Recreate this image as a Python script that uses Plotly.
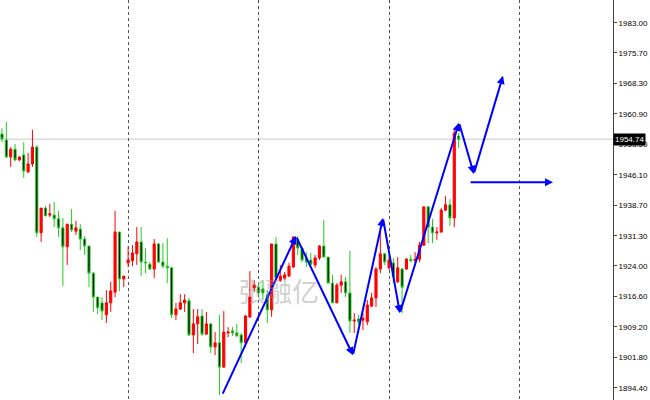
import plotly.graph_objects as go

# ---- data (bar index, OHLC) ----
bar_index = list(range(106))
open_ = [1956.0, 1954.5, 1950.4, 1952.3, 1949.7, 1950.9, 1946.8, 1948.7, 1952.8, 1932.0,
         1938.0, 1936.3, 1936.3, 1935.4, 1933.2, 1928.6, 1934.1, 1932.4, 1932.9, 1930.5,
         1928.8, 1922.2, 1916.4, 1915.0, 1912.1, 1915.0, 1917.6, 1932.2, 1920.8, 1924.7,
         1925.2, 1926.9, 1929.8, 1924.9, 1924.4, 1923.2, 1929.3, 1924.9, 1923.9, 1923.5,
         1912.1, 1913.5, 1915.0, 1915.5, 1907.2, 1909.9, 1911.8, 1907.4, 1909.9, 1904.3,
         1905.3, 1899.4, 1907.7, 1908.2, 1907.7, 1907.2, 1905.3, 1911.6, 1918.6, 1918.8,
         1918.4, 1916.9, 1913.3, 1929.3, 1920.5, 1921.0, 1921.5, 1923.7, 1930.3, 1928.3,
         1925.9, 1925.4, 1924.2, 1925.9, 1928.8, 1926.1, 1919.8, 1915.0, 1919.3, 1920.1,
         1917.4, 1910.6, 1911.1, 1910.8, 1910.4, 1914.2, 1916.2, 1923.2, 1926.9, 1923.5,
         1924.7, 1920.1, 1923.2, 1923.2, 1925.6, 1925.2, 1925.6, 1929.0, 1938.3, 1933.4,
         1932.0, 1932.2, 1937.5, 1938.8, 1935.6, 1955.5]
high = [1957.4, 1958.9, 1952.8, 1953.6, 1950.6, 1954.0, 1951.4, 1957.0, 1953.3, 1938.0,
        1938.5, 1939.0, 1939.5, 1937.3, 1935.6, 1934.1, 1937.8, 1934.9, 1934.1, 1931.2,
        1928.8, 1922.5, 1916.4, 1916.4, 1918.1, 1920.1, 1937.3, 1932.2, 1921.5, 1928.6,
        1929.0, 1933.4, 1933.4, 1928.3, 1924.9, 1930.5, 1929.5, 1929.5, 1930.7, 1923.7,
        1915.0, 1917.1, 1917.1, 1916.2, 1913.5, 1913.5, 1913.5, 1912.8, 1909.9, 1907.9,
        1912.1, 1913.0, 1909.1, 1909.1, 1909.9, 1907.7, 1912.1, 1922.7, 1920.5, 1920.1,
        1920.5, 1918.1, 1929.3, 1931.0, 1924.2, 1922.5, 1924.7, 1931.2, 1931.2, 1928.6,
        1927.3, 1927.1, 1926.6, 1929.0, 1935.1, 1926.1, 1921.8, 1919.8, 1921.8, 1921.3,
        1927.6, 1912.5, 1912.1, 1912.5, 1915.7, 1917.4, 1923.7, 1933.4, 1927.1, 1926.6,
        1925.9, 1926.1, 1923.5, 1925.9, 1926.6, 1927.3, 1929.8, 1938.3, 1938.5, 1935.4,
        1933.4, 1938.0, 1940.9, 1940.2, 1957.2, 1956.2]
low = [1954.0, 1950.2, 1948.0, 1949.4, 1949.4, 1945.3, 1946.5, 1948.0, 1931.0, 1929.8,
       1936.1, 1935.8, 1933.4, 1931.0, 1919.1, 1924.2, 1932.2, 1931.5, 1927.8, 1926.6,
       1918.8, 1912.8, 1912.3, 1910.8, 1910.1, 1912.8, 1916.4, 1917.9, 1918.8, 1923.7,
       1923.9, 1924.2, 1921.5, 1922.2, 1923.0, 1921.0, 1924.7, 1923.5, 1919.8, 1911.3,
       1910.8, 1913.3, 1912.8, 1907.0, 1902.8, 1905.0, 1907.0, 1907.2, 1902.8, 1902.3,
       1892.6, 1899.2, 1906.7, 1907.0, 1906.7, 1900.4, 1904.3, 1911.3, 1917.6, 1916.9,
       1915.7, 1910.1, 1911.6, 1920.5, 1920.1, 1920.5, 1921.3, 1923.5, 1926.6, 1924.9,
       1923.7, 1924.2, 1923.5, 1925.4, 1926.1, 1919.8, 1915.0, 1915.0, 1917.4, 1916.4,
       1907.7, 1907.7, 1909.6, 1908.4, 1909.6, 1914.0, 1914.0, 1922.2, 1924.2, 1923.0,
       1919.8, 1919.8, 1912.5, 1923.0, 1924.9, 1924.7, 1924.9, 1928.8, 1929.5, 1929.5,
       1930.3, 1932.0, 1937.3, 1933.7, 1933.4, 1952.6]
close = [1954.8, 1950.4, 1952.3, 1949.7, 1950.4, 1947.0, 1948.7, 1952.8, 1932.0, 1938.0,
         1936.1, 1936.6, 1935.4, 1933.2, 1928.6, 1934.1, 1932.7, 1933.2, 1930.5, 1928.8,
         1922.2, 1916.4, 1913.8, 1913.0, 1915.0, 1917.9, 1932.2, 1920.8, 1921.5, 1925.4,
         1927.1, 1929.8, 1924.9, 1924.7, 1923.2, 1929.3, 1924.9, 1923.9, 1923.5, 1912.1,
         1913.5, 1915.0, 1915.7, 1907.2, 1909.9, 1911.6, 1907.4, 1909.9, 1904.3, 1905.3,
         1899.4, 1907.9, 1907.9, 1907.7, 1907.0, 1905.3, 1911.8, 1916.4, 1919.3, 1917.4,
         1917.4, 1913.3, 1929.3, 1921.0, 1921.5, 1921.8, 1923.9, 1931.0, 1928.3, 1925.4,
         1924.9, 1924.4, 1925.9, 1928.8, 1926.1, 1919.8, 1915.0, 1919.3, 1920.1, 1917.4,
         1910.6, 1910.8, 1910.4, 1911.3, 1914.5, 1916.2, 1923.2, 1926.9, 1924.9, 1925.4,
         1921.3, 1923.5, 1918.8, 1925.6, 1925.2, 1925.6, 1929.0, 1938.3, 1933.4, 1932.0,
         1932.2, 1937.5, 1938.8, 1935.6, 1956.2, 1954.74]

price_ticks = [1983.00, 1975.70, 1968.30, 1960.90, 1953.50, 1946.10, 1938.70,
               1931.30, 1924.00, 1916.60, 1909.20, 1901.80, 1894.40]
last_price = 1954.74
grid_bars = [29, 59, 89, 119]

# hand-drawn zigzag arrow path (bar index, price)
zig_x = [50.6, 67.6, 80.7, 87.6, 91.5, 105.1, 108.5, 115.2]
zig_y = [1892.6, 1931.2, 1902.3, 1935.6, 1912.5, 1958.7, 1946.3, 1970.1]
flat_x = [107.4, 126.7]
flat_y = [1944.3, 1944.3]

fig = go.Figure()
fig.add_trace(go.Candlestick(
    x=bar_index, open=open_, high=high, low=low, close=close,
    increasing=dict(line=dict(color="#ff0000", width=1), fillcolor="#ff0000"),
    decreasing=dict(line=dict(color="#22cc22", width=1), fillcolor="#000000"),
    whiskerwidth=0, showlegend=False, hoverinfo="skip"))

annotations = []
for k in range(1, len(zig_x)):
    annotations.append(dict(
        x=zig_x[k], y=zig_y[k], ax=zig_x[k-1], ay=zig_y[k-1],
        xref="x", yref="y", axref="x", ayref="y", text="", showarrow=True,
        arrowhead=2, arrowsize=0.8, arrowwidth=2, arrowcolor="#0000ff"))
annotations.append(dict(
    x=flat_x[1], y=flat_y[1], ax=flat_x[0], ay=flat_y[0],
    xref="x", yref="y", axref="x", ayref="y", text="", showarrow=True,
    arrowhead=2, arrowsize=0.8, arrowwidth=2, arrowcolor="#0000ff"))
# watermark
annotations.append(dict(
    x=63.5, y=1918.0, xref="x", yref="y", text="张融亿", showarrow=False,
    font=dict(family="Noto Sans CJK SC", size=27, color="rgba(150,150,150,0.45)")))
# last price label
annotations.append(dict(
    x=1.0, y=last_price, xref="paper", yref="y", text=f"{last_price:.2f}",
    showarrow=False, xanchor="left", yanchor="middle", bgcolor="#000000",
    font=dict(family="Liberation Sans", size=8, color="#ffffff"), borderpad=1))

fig.add_shape(type="line", xref="paper", x0=0, x1=1, yref="y",
              y0=last_price, y1=last_price, line=dict(color="#c8c8c8", width=1),
              layer="below")

fig.update_layout(
    width=650, height=400,
    margin=dict(l=0, r=37, t=0, b=0),
    paper_bgcolor="#ffffff", plot_bgcolor="#ffffff",
    showlegend=False,
    annotations=annotations,
    xaxis=dict(range=[-0.46, 140.5], rangeslider=dict(visible=False),
               tickvals=grid_bars, showticklabels=False, ticks="",
               showgrid=True, gridcolor="#555555", griddash="dot", gridwidth=1,
               zeroline=False, showline=False),
    yaxis=dict(range=[1891.42, 1988.51], side="right", tickvals=price_ticks,
               ticktext=[f"{v:.2f}" for v in price_ticks],
               ticks="outside", ticklen=3, tickcolor="#444444",
               showline=True, linecolor="#444444", linewidth=1,
               showgrid=False, zeroline=False, automargin=False,
               tickfont=dict(family="Liberation Sans", size=8, color="#000000")),
)

fig.write_html("out.html", config={"displayModeBar": False},
               post_script="document.body.style.margin='0';")
